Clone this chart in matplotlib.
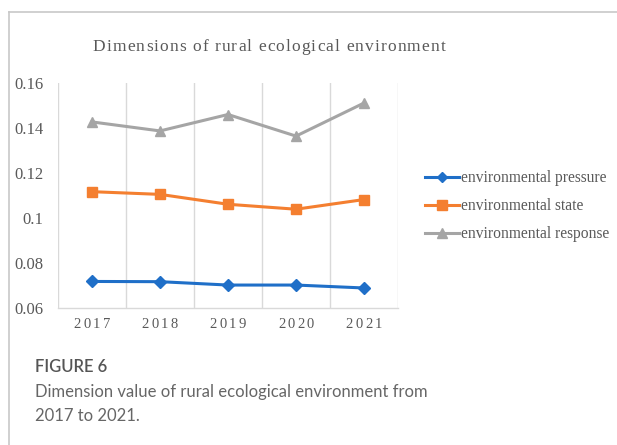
import matplotlib
matplotlib.use("Agg")
import matplotlib.pyplot as plt
from matplotlib.font_manager import FontProperties
from matplotlib.lines import Line2D

# 数据
years = ["2017", "2018", "2019", "2020", "2021"]
pressure = [0.0718, 0.0717, 0.0702, 0.0702, 0.0689]
state = [0.1117, 0.1105, 0.1061, 0.1039, 0.1082]
response = [0.1427, 0.1387, 0.1460, 0.1364, 0.1511]

series_names = ["environmental pressure", "environmental state", "environmental response"]
series_colors = ["#1F6FC8", "#F47F30", "#A5A5A5"]
series_markers = ["D", "s", "^"]
series_sizes = [6, 7.5, 7.5]

title_text = "Dimensions of rural ecological environment"
caption_head = "FIGURE 6"
caption_lines = ["Dimension value of rural ecological environment from", "2017 to 2021."]

W, H = 617, 445
fig = plt.figure(figsize=(W / 100, H / 100), dpi=100)
fig.patch.set_facecolor("white")

serif = "Liberation Serif"
txt_grey = "#595959"


def px(x, y):
    """像素坐标 -> figure 坐标"""
    return x / W, 1 - y / H


def spaced_text(x_c, y_c, s, gap, **kw):
    """带字间距的文字，居中放在 (x_c, y_c) 像素位置"""
    r = fig.canvas.get_renderer()
    fp = FontProperties(family=kw.get("family", serif), size=kw.get("size", 12))
    widths = [r.get_text_width_height_descent(ch, fp, ismath=False)[0] for ch in s]
    total = sum(widths) + gap * (len(s) - 1)
    x = x_c - total / 2
    for ch, w in zip(s, widths):
        fig.text(*px(x, y_c), ch, ha="left", va="center", fontproperties=fp,
                 color=kw.get("color", txt_grey))
        x += w + gap


# 外框线
fig.add_artist(Line2D([9 / W, 1], [1 - 11.5 / H] * 2, color="#C8C8C8", lw=1.2))
fig.add_artist(Line2D([9 / W] * 2, [1 - 11.5 / H, 0], color="#C8C8C8", lw=1.2))

# 绘图区
left, right, top, bottom = 58, 398, 83, 308
ax = fig.add_axes([left / W, 1 - bottom / H, (right - left) / W, (bottom - top) / H])

x = range(len(years))
for vals, name, c, m, ms in zip([pressure, state, response], series_names,
                                series_colors, series_markers, series_sizes):
    ax.plot(x, vals, color=c, lw=2.2, marker=m, markersize=ms, label=name,
            markeredgecolor=c, zorder=3)

ax.set_xlim(-0.5, len(years) - 0.5)
ax.set_ylim(0.06, 0.16)
ax.set_yticks([0.06, 0.08, 0.1, 0.12, 0.14, 0.16])
ax.set_yticklabels(["0.06", "0.08", "0.1", "0.12", "0.14", "0.16"])
ax.set_xticks(list(x))
ax.set_xticklabels([])
ax.set_xticks([i - 0.5 for i in range(len(years) + 1)], minor=True)
ax.grid(True, which="minor", axis="x", color="#D9D9D9", lw=1)
ax.tick_params(axis="both", which="both", length=0)
ax.tick_params(axis="y", labelsize=12, labelcolor=txt_grey, pad=10.5)
for lab in ax.get_yticklabels():
    lab.set_fontfamily(serif)
for sp in ["top", "right", "left"]:
    ax.spines[sp].set_visible(False)
ax.spines["bottom"].set_color("#D9D9D9")
ax.spines["bottom"].set_linewidth(1)

# x 轴刻度标签（加字间距）
for i, yr in enumerate(years):
    xc = left + (i + 0.5) * (right - left) / len(years)
    spaced_text(xc, 325, yr, 2.4, size=10.5)

# 标题
spaced_text(269, 47, title_text, 1.1, size=12.5)

# 图例
handles = [Line2D([], [], color=c, lw=2.2, marker=m, markersize=ms * 0.9)
           for c, m, ms in zip(series_colors, series_markers, series_sizes)]
leg = fig.legend(handles, series_names, loc="upper left", bbox_to_anchor=px(425, 170),
                 frameon=False, borderpad=0, borderaxespad=0, handlelength=2.2,
                 handletextpad=0.12, labelspacing=0.78,
                 prop=FontProperties(family=serif, size=11.2))
for t in leg.get_texts():
    t.set_color(txt_grey)

# 图注
fig.text(*px(35, 367), caption_head, ha="left", va="center", family="Lato",
         weight="semibold", size=12, color="#555555")
for k, line in enumerate(caption_lines):
    fig.text(*px(35, 392 + k * 24), line, ha="left", va="center", family="Lato",
             weight="normal", size=12, color="#666666")

fig.savefig("out.png", dpi=100)
